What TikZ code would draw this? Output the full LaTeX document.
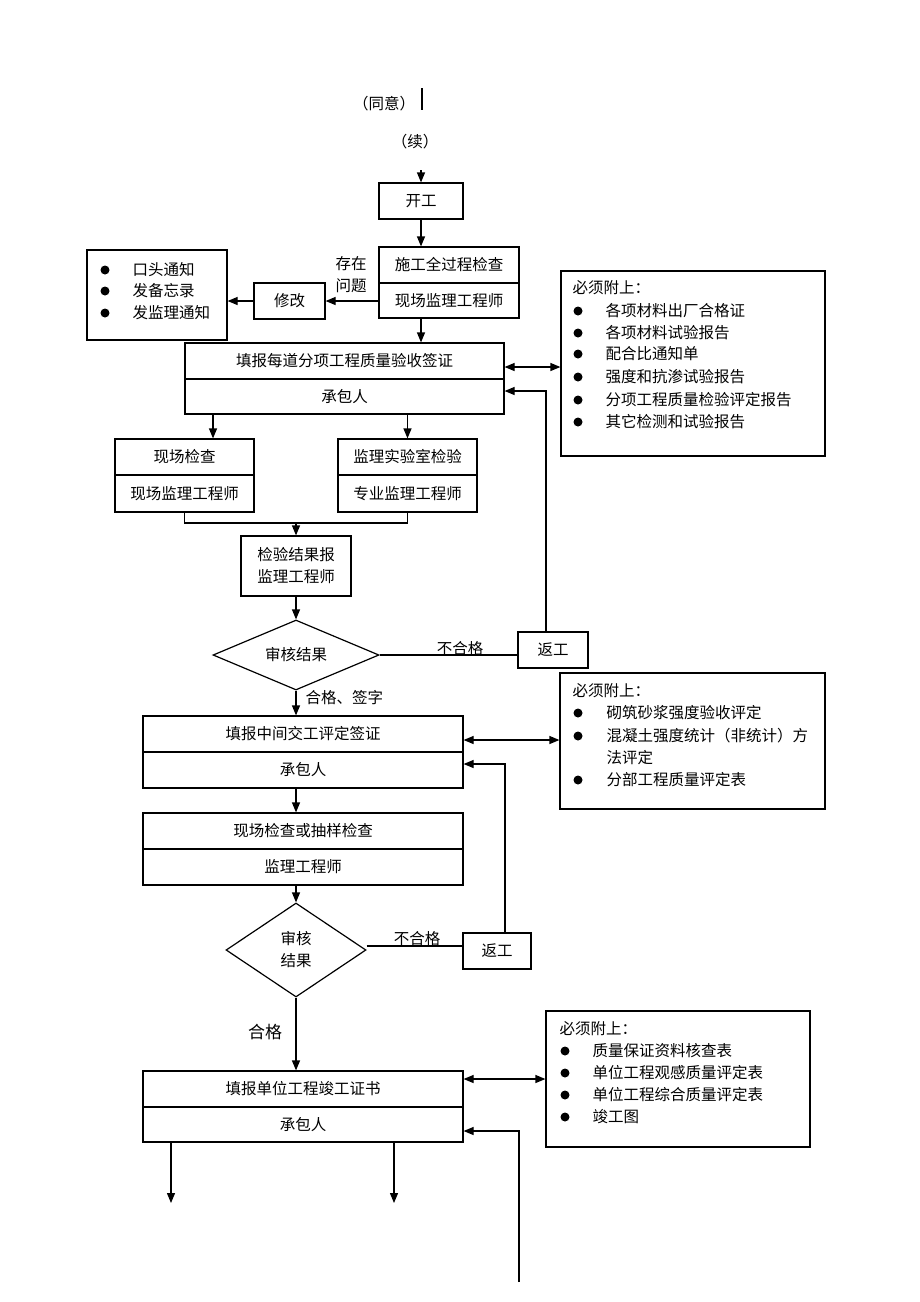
\documentclass[tikz,border=0pt]{standalone}
\usepackage{fontspec}
\newfontfamily\cjk{Noto Sans CJK SC}
\usetikzlibrary{arrows.meta,shapes.geometric,calc}
\begin{document}
\begin{tikzpicture}[x=1pt,y=-1pt,line width=1.2pt,
  every node/.style={font=\cjk\fontsize{15.5}{22}\selectfont,inner sep=0pt},
  bx/.style={draw,rectangle,line width=1.2pt},
  dm/.style={draw,diamond,line width=1.2pt,inner sep=0pt},
  tl/.style={anchor=west},
  arr/.style={-{Triangle[length=10pt,width=8pt]}},
  darr/.style={{Triangle[length=10pt,width=8pt]}-{Triangle[length=10pt,width=8pt]}},
  dot/.style={circle,fill=black,minimum size=9pt,inner sep=0pt}]
\useasboundingbox (0,0) rectangle (920,1302);

% top
\node (ty) at (384,104) {（同意）};
\coordinate (tl1) at (422,88);
\coordinate (tl2) at (422,110);
\draw (tl1) -- (tl2);
\node (xu) at (415,142) {（续）};
\coordinate (ka) at (421,170);

\node[bx,minimum width=84pt,minimum height=36pt] (kg) at (421,201) {开工};
\draw[arr] (ka) -- (kg.north);

\node[bx,minimum width=140pt,minimum height=36pt] (sg1) at (449,265) {施工全过程检查};
\node[bx,minimum width=140pt,minimum height=35pt] (sg2) at (449,300.5) {现场监理工程师};
\draw[arr] (kg.south) -- (kg.south |- sg1.north);
\node[align=center] (cz) at (351,275) {存在\\问题};

\node[bx,minimum width=71pt,minimum height=36pt] (xg) at (289.5,301) {修改};
\node[bx,minimum width=140pt,minimum height=90pt] (bl) at (157,295) {};
\node[dot] (b1) at (105,270) {};
\node[dot] (b2) at (105,291) {};
\node[dot] (b3) at (105,313) {};
\node[tl] (bt1) at (132,270) {口头通知};
\node[tl] (bt2) at (132,291) {发备忘录};
\node[tl] (bt3) at (132,313) {发监理通知};
\draw[arr] (sg2.west |- xg.east) -- (xg.east);
\draw[arr] (xg.west) -- (xg.west -| bl.east);

% 填报每道
\node[bx,minimum width=319pt,minimum height=36pt] (tb1) at (344.5,361) {填报每道分项工程质量验收签证};
\node[bx,minimum width=319pt,minimum height=35pt] (tb2) at (344.5,396.5) {承包人};
\draw[arr] (sg2.south -| kg.south) -- (kg.south |- tb1.north);

\node[bx,minimum width=264pt,minimum height=185pt] (m1) at (693,363.5) {};
\node[tl] (m1h) at (572,288) {必须附上：};
\node[dot] (m1d1) at (578,311) {}; \node[tl] (m1t1) at (605,311) {各项材料出厂合格证};
\node[dot] (m1d2) at (578,333) {}; \node[tl] (m1t2) at (605,333) {各项材料试验报告};
\node[dot] (m1d3) at (578,354) {}; \node[tl] (m1t3) at (605,354) {配合比通知单};
\node[dot] (m1d4) at (578,377) {}; \node[tl] (m1t4) at (605,377) {强度和抗渗试验报告};
\node[dot] (m1d5) at (578,400) {}; \node[tl] (m1t5) at (605,400) {分项工程质量检验评定报告};
\node[dot] (m1d6) at (578,422) {}; \node[tl] (m1t6) at (605,422) {其它检测和试验报告};
\draw[darr] (tb1.east |- 0,367) -- (m1.west |- 0,367);

% two inspections
\node[bx,minimum width=139pt,minimum height=36pt] (xc1) at (184.5,457) {现场检查};
\node[bx,minimum width=139pt,minimum height=37pt] (xc2) at (184.5,493.5) {现场监理工程师};
\node[bx,minimum width=139pt,minimum height=36pt] (sy1) at (407.5,457) {监理实验室检验};
\node[bx,minimum width=139pt,minimum height=37pt] (sy2) at (407.5,493.5) {专业监理工程师};
\draw[arr] (tb2.south -| 213,0) -- (xc1.north -| 213,0);
\draw[arr] (tb2.south -| sy1.north) -- (sy1.north);

\node[bx,minimum width=110pt,minimum height=60pt,align=center] (jy) at (296,566) {检验结果报\\监理工程师};
\coordinate (jn) at (296,523);
\draw (xc2.south) -- (xc2.south |- jn) -- (sy2.south |- jn) -- (sy2.south);
\draw[arr] (jn) -- (jy.north);

\node[dm,minimum width=166pt,minimum height=70pt,aspect=2.37] (d1) at (296,655) {审核结果};
\draw[arr] (jy.south) -- (d1.north);
\node[bx,minimum width=70pt,minimum height=36pt] (fg1) at (553,650) {返工};
\draw (d1.east) -- (d1.east -| fg1.west);
\node (bh1) at (460,649) {不合格};
\draw[arr] ([xshift=-7pt]fg1.north) |- ([yshift=5.5pt]tb2.east);

% 中间交工
\node[bx,minimum width=320pt,minimum height=36pt] (zj1) at (303,734) {填报中间交工评定签证};
\node[bx,minimum width=320pt,minimum height=36pt] (zj2) at (303,770) {承包人};
\draw[arr] (d1.south) -- (d1.south |- zj1.north);
\node[tl] (hg1) at (305,698) {合格、签字};

\node[bx,minimum width=265pt,minimum height=136pt] (m2) at (692.5,741) {};
\node[tl] (m2h) at (572,691) {必须附上：};
\node[dot] (m2d1) at (578,713) {}; \node[tl] (m2t1) at (606,713) {砌筑砂浆强度验收评定};
\node[dot] (m2d2) at (578,736) {}; \node[tl] (m2t2) at (606,736) {混凝土强度统计（非统计）方};
\node[tl] (m2t3) at (606,758) {法评定};
\node[dot] (m2d3) at (578,780) {}; \node[tl] (m2t4) at (606,780) {分部工程质量评定表};
\draw[darr] (zj1.east |- 0,740) -- (m2.west |- 0,740);

% 现场检查或抽样
\node[bx,minimum width=320pt,minimum height=36pt] (cy1) at (303,831) {现场检查或抽样检查};
\node[bx,minimum width=320pt,minimum height=36pt] (cy2) at (303,867) {监理工程师};
\draw[arr] (zj2.south -| d1.south) -- (d1.south |- cy1.north);

\node[dm,minimum width=140pt,minimum height=94pt,aspect=1.5,align=center] (d2) at (296,950) {审核\\结果};
\draw[arr] (cy2.south -| d2.north) -- (d2.north);
\node[bx,minimum width=68pt,minimum height=36pt] (fg2) at (497,951) {返工};
\draw (d2.east |- 0,946) -- (fg2.west |- 0,946);
\node (bh2) at (417,939) {不合格};
\draw[arr] ([xshift=8pt]fg2.north) |- ([yshift=6pt]zj2.east);

% 单位工程
\node[bx,minimum width=320pt,minimum height=36pt] (dw1) at (303,1089) {填报单位工程竣工证书};
\node[bx,minimum width=320pt,minimum height=35pt] (dw2) at (303,1124.5) {承包人};
\draw[arr] (d2.south) -- (d2.south |- dw1.north);
\node[font=\cjk\fontsize{17}{20}\selectfont] (hg2) at (265,1032) {合格};

\node[bx,minimum width=264pt,minimum height=136pt] (m3) at (678,1079) {};
\node[tl] (m3h) at (559,1029) {必须附上：};
\node[dot] (m3d1) at (565,1051) {}; \node[tl] (m3t1) at (592,1051) {质量保证资料核查表};
\node[dot] (m3d2) at (565,1073) {}; \node[tl] (m3t2) at (592,1073) {单位工程观感质量评定表};
\node[dot] (m3d3) at (565,1095) {}; \node[tl] (m3t3) at (592,1095) {单位工程综合质量评定表};
\node[dot] (m3d4) at (565,1117) {}; \node[tl] (m3t4) at (592,1117) {竣工图};
\draw[darr] (dw1.east |- 0,1079) -- (m3.west |- 0,1079);

\coordinate (rb) at (519,1282);
\draw[arr] (rb) |- ([yshift=-6.5pt]dw2.east);
\coordinate (o1) at (171,1203);
\coordinate (o2) at (394,1203);
\draw[arr] (dw2.south -| o1) -- (o1);
\draw[arr] (dw2.south -| o2) -- (o2);
\end{tikzpicture}
\end{document}
